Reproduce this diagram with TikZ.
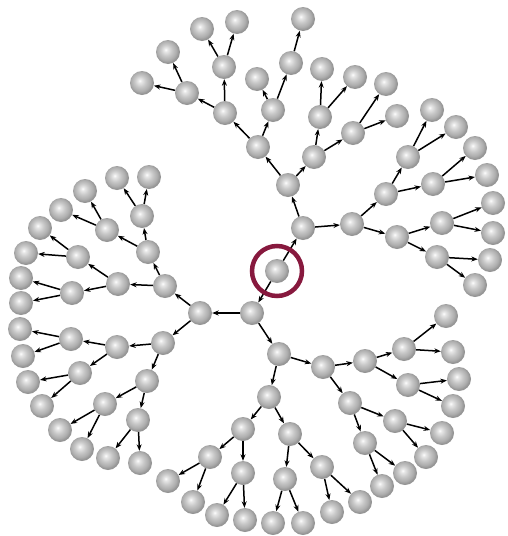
\documentclass[tikz,border=0pt]{standalone}
\usetikzlibrary{arrows.meta}
\pgfdeclareradialshading{sph}{\pgfpoint{-5bp}{5bp}}{color(0bp)=(white); color(3bp)=(black!8); color(12bp)=(black!22); color(20bp)=(black!32); color(25bp)=(black!42); color(50bp)=(black!42)}
\definecolor{ringred}{RGB}{135,25,62}
\tikzset{
  ballnode/.style={circle, minimum size=24pt, inner sep=0pt, shading=sph},
  arr/.style={-{Stealth[length=6.5pt,width=5pt]}, line width=1.5pt, black},
  ring/.style={draw=ringred, line width=4.5pt}
}
\begin{document}
\begin{tikzpicture}[x=1pt,y=-1pt]
\useasboundingbox (0,0) rectangle (507,536);
\foreach \n/\x/\y in {
 r/277/271,
 a/303/228, a1/288/185, a2/352/224,
 a11/258/147, a12/314/157,
 a111/225/113, a112/273/110,
 a1111/187/93, a1112/224/67,
 a11111/142/83, a11112/168/52, a11121/202/29, a11122/237/22,
 a1121/257/79, a1122/291/63, a11221/303/19,
 a121/320/117, a122/353/133,
 a1211/322/69, a1212/355/77, a1221/386/84, a1222/397/116,
 a21/386/194, a22/397/237,
 a211/408/157, a212/433/184,
 a2111/432/110, a2112/456/127, a2121/475/148, a2122/487/175,
 a221/442/223, a222/437/257,
 a2211/493/203, a2212/493/233, a2221/490/260, a2222/475/285,
 b/252/313, b1/200/313, b2/279/354,
 b11/165/286, b12/163/343,
 b111/148/252, b112/118/284,
 b1111/142/216, b1112/107/230,
 b11111/117/178, b11112/149/177, b11121/85/191, b11122/61/210,
 b1121/78/257, b1122/72/293,
 b11211/40/228, b11212/26/253, b11221/21/278, b11222/21/303,
 b121/117/347, b122/147/381,
 b1211/71/339, b1212/80/373,
 b12111/20/329, b12112/23/356, b12121/28/382, b12122/42/406,
 b1221/105/404, b1222/138/420,
 b12211/60/430, b12212/82/449, b12221/108/458, b12222/140/463,
 b21/323/367, b22/269/397,
 b211/365/361, b212/350/403,
 b2111/404/349, b2112/408/385,
 b21111/446/316, b21112/453/352, b21121/459/379, b21122/453/406,
 b2121/395/421, b2122/365/443,
 b21211/442/433, b21212/426/457, b21221/405/473, b21222/382/486,
 b221/243/429, b222/290/434,
 b2211/210/457, b2212/243/473,
 b22111/168/481, b22112/193/502, b22121/217/515, b22122/245/520,
 b2221/285/479, b2222/322/467,
 b22211/273/523, b22212/303/523, b22221/332/512, b22222/360/502}
 \node[ballnode] (\n) at (\x,\y) {};
\foreach \p/\c in {
 r/a, a/a1, a/a2, a1/a11, a1/a12, a11/a111, a11/a112,
 a111/a1111, a111/a1112, a1111/a11111, a1111/a11112, a1112/a11121, a1112/a11122,
 a112/a1121, a112/a1122, a1122/a11221,
 a12/a121, a12/a122, a121/a1211, a121/a1212, a122/a1221, a122/a1222,
 a2/a21, a2/a22, a21/a211, a21/a212, a211/a2111, a211/a2112, a212/a2121, a212/a2122,
 a22/a221, a22/a222, a221/a2211, a221/a2212, a222/a2221, a222/a2222,
 r/b, b/b1, b/b2, b1/b11, b1/b12, b11/b111, b11/b112,
 b111/b1111, b111/b1112, b1111/b11111, b1111/b11112, b1112/b11121, b1112/b11122,
 b112/b1121, b112/b1122, b1121/b11211, b1121/b11212, b1122/b11221, b1122/b11222,
 b12/b121, b12/b122, b121/b1211, b121/b1212, b1211/b12111, b1211/b12112,
 b1212/b12121, b1212/b12122, b122/b1221, b122/b1222, b1221/b12211, b1221/b12212,
 b1222/b12221, b1222/b12222,
 b2/b21, b2/b22, b21/b211, b21/b212, b211/b2111, b211/b2112,
 b2111/b21111, b2111/b21112, b2112/b21121, b2112/b21122,
 b212/b2121, b212/b2122, b2121/b21211, b2121/b21212, b2122/b21221, b2122/b21222,
 b22/b221, b22/b222, b221/b2211, b221/b2212, b2211/b22111, b2211/b22112,
 b2212/b22121, b2212/b22122, b222/b2221, b222/b2222, b2221/b22211, b2221/b22212,
 b2222/b22221, b2222/b22222}
 \draw[arr] (\p) -- (\c);
\node[ring, circle, minimum size=50pt, inner sep=0pt] (hl) at (r) {};
\end{tikzpicture}
\end{document}
